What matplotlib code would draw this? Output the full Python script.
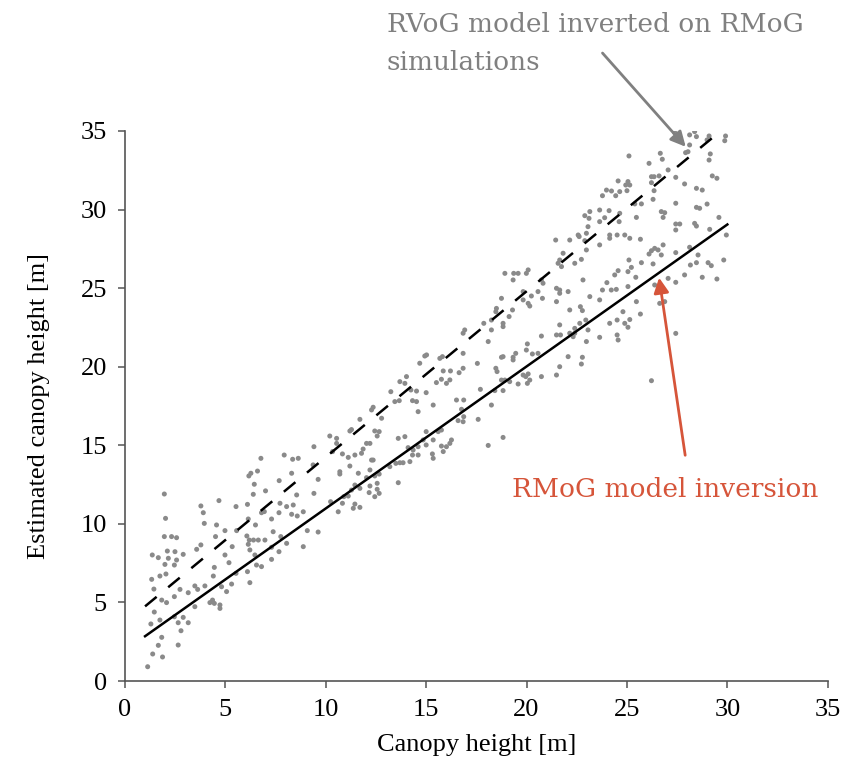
import numpy as np
import matplotlib
matplotlib.use("Agg")
import matplotlib.pyplot as plt

# scatter points (canopy height, estimated height)
pts_a = [
    (1.13, 0.91), (1.38, 1.72), (1.87, 1.53), (1.66, 2.27), (1.83, 2.78), (2.65, 2.29),
    (1.29, 3.63), (1.46, 4.39), (1.74, 3.88), (2.79, 3.20), (2.65, 3.71), (3.15, 3.71),
    (2.90, 4.05), (2.46, 4.09), (1.33, 6.47), (1.44, 5.85), (1.74, 6.68), (2.04, 6.81),
    (1.36, 8.02), (1.66, 7.85), (1.99, 7.42), (2.11, 8.27), (1.96, 9.19), (2.32, 9.19),
    (2.57, 9.12), (2.49, 8.23), (2.16, 7.81), (2.57, 7.70), (2.46, 7.38), (2.90, 8.06),
    (2.02, 10.35), (1.96, 11.90), (1.83, 5.15), (2.07, 4.99), (2.46, 5.37), (2.74, 5.83),
    (3.15, 5.62), (3.48, 6.05), (3.62, 5.83), (3.98, 6.05), (3.48, 4.73), (4.23, 4.99),
    (4.45, 4.94), (4.73, 4.84), (4.73, 4.62), (4.40, 6.68), (4.45, 7.23), (3.57, 8.38),
    (3.78, 8.66), (3.95, 10.03), (3.90, 10.71), (3.78, 11.14), (4.56, 9.93), (4.51, 9.19),
    (4.68, 11.48), (4.98, 8.02), (5.18, 7.53), (4.81, 6.00), (5.06, 5.69), (5.31, 6.17),
    (5.53, 6.85), (5.34, 8.55), (4.98, 9.57), (5.56, 9.57), (5.53, 11.10), (6.10, 11.24),
    (6.17, 13.05), (6.27, 13.22), (6.60, 13.36), (6.77, 14.17), (6.44, 12.52), (6.39, 11.88),
    (6.14, 10.31), (6.07, 9.23), (6.19, 8.97), (6.50, 9.93), (6.40, 8.97), (6.64, 8.97),
    (6.97, 8.97), (6.14, 8.70), (6.22, 8.34), (6.47, 8.02), (6.80, 7.28), (6.55, 7.38),
    (6.10, 6.96), (6.22, 6.26), (7.00, 12.10), (6.94, 10.78), (7.30, 10.31), (7.38, 9.50),
    (7.30, 8.51), (7.30, 7.74), (7.68, 12.75), (7.72, 11.31), (7.93, 14.38), (8.05, 11.10),
    (7.67, 10.71), (7.76, 9.19), (7.67, 8.23), (8.05, 8.76), (6.80, 10.71), (4.36, 5.15),
]
pts_b = [
    (8.88, 8.55), (9.08, 9.57), (9.62, 9.48), (8.30, 10.61), (8.58, 10.50), (8.88, 10.77),
    (8.38, 11.20), (8.55, 11.84), (9.41, 11.94), (9.62, 12.83), (8.30, 13.22), (8.63, 14.17),
    (8.35, 14.11), (9.37, 13.75), (9.41, 14.91), (10.20, 15.59), (10.54, 15.44), (10.54, 15.12),
    (10.34, 14.60), (10.83, 14.45), (11.12, 14.23), (10.70, 13.32), (10.70, 13.17), (11.20, 13.68),
    (10.24, 11.41), (10.62, 10.77), (10.83, 11.31), (10.90, 11.73), (11.37, 10.99), (11.70, 11.05),
    (11.45, 11.26), (11.12, 11.77), (11.28, 12.15), (11.45, 12.47), (11.62, 13.22), (11.70, 12.26),
    (11.45, 14.38), (11.78, 14.49), (12.03, 15.12), (12.20, 15.12), (11.86, 14.76), (12.28, 14.06),
    (12.36, 14.06), (12.36, 17.42), (12.28, 17.25), (11.70, 16.65), (11.28, 16.00), (11.20, 15.91),
    (12.44, 15.91), (12.56, 15.59), (12.66, 15.87), (12.78, 16.72), (12.20, 13.43), (12.44, 13.05),
    (12.66, 13.17), (12.56, 12.58), (12.20, 12.41), (12.03, 12.94), (12.56, 12.20), (12.16, 11.99),
    (12.66, 11.94), (12.44, 11.73), (13.19, 13.64), (13.49, 13.85), (13.69, 13.89), (13.61, 12.62),
    (13.85, 13.89), (13.24, 18.41), (13.66, 17.84), (13.44, 17.78), (13.69, 19.05), (14.02, 19.37),
    (13.94, 18.94), (14.24, 18.52), (14.52, 18.45), (14.32, 17.84), (14.52, 17.78), (14.60, 17.14),
    (13.61, 15.44), (13.94, 15.55), (14.10, 14.85), (14.35, 14.70), (14.60, 14.91), (14.32, 14.38),
    (14.60, 14.38), (14.19, 13.96), (15.00, 15.02), (14.85, 15.34), (15.00, 15.87), (15.35, 15.34),
    (15.31, 14.45), (15.35, 14.17), (15.76, 14.95), (15.85, 14.60), (16.01, 14.91), (16.18, 15.12),
    (16.26, 15.34), (15.76, 15.97), (15.60, 15.87), (15.35, 17.56), (15.00, 18.35), (15.51, 18.99),
    (15.76, 19.20), (16.01, 18.94), (16.18, 19.16), (15.85, 19.73), (16.21, 19.73), (16.64, 19.62),
    (14.68, 20.22), (14.93, 20.68), (15.02, 20.75), (15.68, 20.53), (15.81, 20.64), (16.51, 17.88),
    (16.59, 16.57),
]
pts_c = [
    (18.09, 14.99), (18.83, 15.50), (17.59, 16.65), (16.84, 16.50), (16.87, 16.82), (16.76, 17.29),
    (16.87, 17.88), (18.25, 17.56), (17.70, 18.56), (18.42, 18.48), (18.83, 18.48), (18.92, 19.15),
    (19.16, 19.05), (18.75, 19.15), (19.58, 18.90), (19.83, 19.47), (20.08, 19.54), (20.04, 18.94),
    (20.16, 19.15), (19.96, 19.37), (20.74, 19.37), (21.49, 19.47), (21.65, 20.00), (22.07, 20.64),
    (22.73, 20.17), (22.78, 20.60), (20.57, 20.85), (20.29, 20.81), (19.99, 21.06), (20.04, 21.45),
    (19.46, 20.85), (19.33, 20.43), (19.33, 20.60), (18.83, 20.64), (18.75, 20.60), (18.47, 19.90),
    (18.53, 19.69), (20.74, 21.95), (21.49, 22.02), (21.69, 22.02), (21.65, 22.66), (22.15, 22.13),
    (22.40, 22.13), (22.40, 22.44), (22.32, 21.91), (22.65, 22.76), (22.95, 22.97), (22.98, 21.60),
    (23.06, 22.34), (23.64, 21.87), (24.51, 22.02), (24.56, 21.70), (24.89, 22.76), (25.05, 22.51),
    (25.14, 23.00), (24.51, 22.97), (24.14, 22.76), (22.15, 23.61), (22.68, 23.82), (22.78, 23.57),
    (23.15, 24.46), (23.64, 24.25), (23.78, 24.88), (24.22, 24.88), (24.47, 24.92), (24.00, 25.35),
    (25.05, 25.10), (24.39, 25.84), (24.56, 26.11), (25.05, 26.05), (25.22, 26.32), (25.10, 26.79),
    (25.44, 25.69), (25.47, 24.14), (24.80, 23.50), (22.81, 25.52), (21.65, 24.88), (21.49, 24.14),
    (21.65, 24.67), (22.07, 24.78), (21.49, 24.99), (20.79, 24.35), (20.57, 24.78), (20.24, 24.50),
    (20.16, 23.86), (20.08, 24.03), (19.83, 24.25), (19.83, 24.78), (19.99, 25.94), (20.08, 26.16),
    (19.58, 25.94), (19.33, 25.52), (19.36, 25.94), (18.92, 25.94), (18.75, 24.35), (19.30, 23.61),
    (19.13, 23.19), (18.83, 22.76), (18.83, 22.55), (18.50, 23.71), (18.47, 23.50), (18.25, 22.97),
    (18.25, 22.34), (17.87, 22.76), (17.55, 20.21), (16.84, 20.85), (16.84, 19.90), (16.92, 22.34),
    (16.84, 22.13), (18.09, 21.60), (20.82, 25.31), (20.74, 25.52), (21.57, 26.58), (21.45, 28.06),
    (21.65, 26.79), (21.74, 26.37), (21.82, 27.22), (22.15, 28.06), (22.40, 26.58), (22.73, 26.83),
    (22.62, 28.28), (22.57, 28.38), (22.90, 28.02), (22.98, 27.43), (23.06, 28.91), (23.64, 27.75),
    (24.14, 28.38), (24.14, 28.17), (24.51, 28.38), (24.89, 28.38), (25.14, 28.17), (22.98, 28.49),
    (24.61, 29.23), (23.64, 29.23),
    (24.56, 31.82), (23.98, 31.24), (24.23, 31.18), (23.78, 30.88), (24.44, 30.88), (23.15, 29.87),
    (23.64, 29.97), (24.11, 29.93), (22.90, 29.61), (23.11, 29.44), (23.89, 29.48),
]
pts_d = [
    (26.22, 19.11), (27.43, 22.12), (26.63, 24.03), (26.88, 24.14), (26.38, 25.20), (25.67, 23.35),
    (25.72, 26.62), (26.30, 26.54), (27.43, 25.37), (27.05, 25.62), (27.87, 25.84), (28.16, 26.47),
    (28.46, 26.62), (28.54, 27.11), (28.75, 25.69), (29.48, 25.58), (29.04, 26.62), (29.20, 26.43),
    (29.82, 26.79), (27.43, 27.26), (28.12, 27.60), (26.80, 27.75), (26.71, 27.11), (26.55, 27.43),
    (26.38, 27.53), (26.10, 27.17), (26.22, 27.38), (25.67, 28.11), (27.43, 28.70), (27.63, 29.08),
    (27.43, 29.08), (28.37, 29.12), (28.46, 28.95), (29.12, 28.74), (29.95, 28.38), (29.58, 29.50),
    (26.80, 29.50), (26.71, 29.87), (26.88, 29.80), (25.47, 29.50), (28.46, 30.14), (28.62, 30.08),
    (28.99, 30.35), (27.43, 30.40), (25.72, 30.36), (25.39, 30.36), (26.30, 30.65), (25.00, 31.20),
    (25.14, 31.56), (25.05, 31.78), (26.35, 31.20), (27.87, 31.63), (28.46, 31.35), (28.75, 31.24),
    (29.25, 32.14), (29.48, 31.99), (26.22, 31.71), (26.22, 32.09), (26.35, 32.09), (26.60, 32.14),
    (27.43, 32.05), (27.05, 32.52), (26.10, 32.94), (25.10, 33.41), (26.66, 33.58), (26.76, 33.20),
    (27.92, 33.62), (29.09, 33.15), (29.15, 33.54), (28.12, 34.11), (27.38, 34.89), (28.12, 34.75),
    (28.37, 34.96), (28.46, 34.64), (29.09, 34.68), (28.99, 34.43), (29.91, 34.68), (29.87, 34.38),
    (28.04, 33.68), (24.64, 31.14), (24.94, 31.56), (24.64, 29.76),
]

# fitted lines (end points)
line_x = [1.0, 30.0]
rmog_y = [2.85, 29.05]    # solid: RMoG model inversion
rvog_y = [4.75, 35.35]    # dashed: RVoG model inverted on RMoG simulations

ticks = [0, 5, 10, 15, 20, 25, 30, 35]

pts = np.array(pts_a + pts_b + pts_c + pts_d)

fig = plt.figure(figsize=(8.56, 7.61), dpi=100)
ax = fig.add_axes([0.146, 0.1051, 0.821, 0.7228])

ax.scatter(pts[:, 0], pts[:, 1], s=13, color="#8a8a8a", edgecolors="none", zorder=2)
ax.plot(line_x, rmog_y, color="black", lw=1.8, zorder=3)
ax.plot(line_x, rvog_y, color="black", lw=1.8, linestyle=(0, (6, 6)), zorder=3)

ax.set_xlim(0, 35)
ax.set_ylim(0, 35)
ax.set_xticks(ticks)
ax.set_yticks(ticks)
for s in ["top", "right"]:
    ax.spines[s].set_visible(False)
for s in ["left", "bottom"]:
    ax.spines[s].set_color("#555555")
    ax.spines[s].set_linewidth(1.2)
ax.tick_params(direction="out", length=5, width=1.1, color="#555555",
               labelsize=19, pad=8)
for lab in ax.get_xticklabels() + ax.get_yticklabels():
    lab.set_family("Liberation Serif")

ax.set_xlabel("Canopy height [m]", family="Liberation Serif", fontsize=19, labelpad=9)
ax.set_ylabel("Estimated canopy height [m]", family="Liberation Serif", fontsize=19, labelpad=22)

gray = "#808080"
red = "#d6553a"
ax.annotate("", xy=(28.02, 33.86), xytext=(23.69, 40.09), annotation_clip=False,
            arrowprops=dict(arrowstyle="-|>,head_length=0.9,head_width=0.45",
                            color=gray, lw=2))
ax.annotate("", xy=(26.58, 25.84), xytext=(27.92, 14.19), annotation_clip=False,
            arrowprops=dict(arrowstyle="-|>,head_length=0.9,head_width=0.45",
                            color=red, lw=2))

fig.text(387 / 856, 1 - 70 / 761, "RVoG model inverted on RMoG\nsimulations",
         color=gray, family="DejaVu Serif", fontsize=19, va="baseline",
         linespacing=1.65, multialignment="left")
fig.text(512 / 856, 1 - 497 / 761, "RMoG model inversion",
         color=red, family="DejaVu Serif", fontsize=19, va="baseline")

fig.savefig("out.png", dpi=100)
